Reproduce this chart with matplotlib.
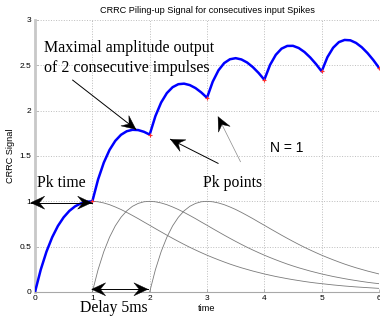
import numpy as np
import matplotlib
matplotlib.use('Agg')
import matplotlib.pyplot as plt
from matplotlib.patches import Polygon

# CRRC pulse shape at 0.1 time steps (0 .. 6)
time_step = 0.1
pulse = [0.000, 0.246, 0.445, 0.604, 0.729, 0.824, 0.895, 0.945, 0.977, 0.995,
         1.000, 0.995, 0.982, 0.963, 0.938, 0.910, 0.878, 0.844, 0.809, 0.772,
         0.736, 0.699, 0.663, 0.627, 0.592, 0.558, 0.525, 0.493, 0.463, 0.434,
         0.406, 0.380, 0.355, 0.331, 0.308, 0.287, 0.267, 0.249, 0.231, 0.215,
         0.199, 0.185, 0.171, 0.159, 0.147, 0.136, 0.126, 0.116, 0.107, 0.099,
         0.092, 0.085, 0.078, 0.072, 0.066, 0.061, 0.056, 0.052, 0.048, 0.044,
         0.040]
spike_times = [0, 1, 2, 3, 4, 5]      # input spikes feeding the pile-up
shown_pulses = [0, 1, 2]              # single pulses drawn in gray
pk_times = [1, 2, 3, 4, 5, 6]         # red points on the piled signal

x_ticks = [0, 1, 2, 3, 4, 5, 6]
y_ticks = [0, 0.5, 1, 1.5, 2, 2.5, 3]
y_ticklabels = ['0', '0.5', '1', '1.5', '2', '2.5', '3']

pulse = np.array(pulse)
n = len(pulse)
t = np.arange(n) * time_step

pile = np.zeros(n)
for s in spike_times:
    k = int(round(s / time_step))
    pile[k:] += pulse[:n - k]

sans = ['Liberation Sans', 'DejaVu Sans']
serif = ['Liberation Serif', 'DejaVu Serif']
plt.rcParams['font.family'] = sans

fig = plt.figure(figsize=(3.8, 3.22), dpi=100)
ax = fig.add_axes([35 / 380, 30 / 322, 344 / 380, 272 / 322])

for s in shown_pulses:
    k = int(round(s / time_step))
    ax.plot(t[k:], pulse[:n - k], color='#7a7a7a', lw=0.6, zorder=2)

ax.plot(t, pile, color='#0000ff', lw=1.8, zorder=3)
pk_idx = [int(round(p / time_step)) for p in pk_times]
ax.plot(t[pk_idx], pile[pk_idx], '+', color='#ff3030', ms=3, mew=0.8,
        zorder=4, clip_on=False)

ax.set_xlim(0, 6)
ax.set_ylim(0, 3)
ax.set_xticks(x_ticks)
ax.set_yticks(y_ticks)
ax.set_yticklabels(y_ticklabels)
ax.grid(True, linestyle=':', color='#bdbdbd', lw=0.7)
ax.set_axisbelow(True)
for side in ['top', 'right']:
    ax.spines[side].set_visible(False)
ax.spines['left'].set_color('#c8c8c8')
ax.spines['left'].set_linewidth(2.0)
ax.spines['bottom'].set_color('#a8a8a8')
ax.spines['bottom'].set_linewidth(0.8)
ax.tick_params(direction='in', length=2, width=0.5, colors='#a0a0a0',
               labelcolor='black', labelsize=6, pad=2.5)

ax.set_title('CRRC Piling-up Signal for consecutives input Spikes',
             fontsize=6.6, pad=5)
ax.set_xlabel('time', fontsize=6.6, labelpad=1)
ax.set_ylabel('CRRC Signal', fontsize=6.6, labelpad=3)


def head(tip, tail, L=14, W=6.5, notch=0.62):
    p_tip = ax.transData.transform(tip)
    p_tail = ax.transData.transform(tail)
    d = p_tip - p_tail
    d = d / np.hypot(*d)
    nrm = np.array([-d[1], d[0]])
    back = p_tip - d * L
    pts = [p_tip, back + nrm * W, p_tip - d * L * notch, back - nrm * W]
    pts = ax.transData.inverted().transform(pts)
    ax.add_patch(Polygon(pts, closed=True, fc='black', ec='black', lw=0.3,
                         clip_on=False, zorder=6))


def arrow(tail, tip, color='black', lw=0.7, both=False):
    ax.plot([tail[0], tip[0]], [tail[1], tip[1]], color=color, lw=lw,
            clip_on=False, zorder=5)
    head(tip, tail)
    if both:
        head(tail, tip)


arrow((0.657, 2.337), (1.760, 1.794))
arrow((3.193, 1.419), (2.364, 1.684))
arrow((3.584, 1.437), (3.193, 1.933), color='#8a8a8a', lw=0.5)
arrow((-0.075, 0.985), (0.988, 0.985), both=True)
arrow((0.988, 0.03), (1.969, 0.03), both=True)

ax.text(0.157, 2.646, 'Maximal amplitude output', family=serif, fontsize=11.5)
ax.text(0.157, 2.426, 'of 2 consecutive impulses', family=serif, fontsize=11.5)
ax.text(0.03, 1.154, 'Pk time', family=serif, fontsize=11.3)
ax.text(2.927, 1.154, 'Pk points', family=serif, fontsize=11.3)
ax.text(4.094, 1.54, 'N = 1', family=sans, fontsize=10)
ax.text(0.784, -0.225, 'Delay 5ms', family=serif, fontsize=11.3, clip_on=False)

fig.savefig('out.png', dpi=100)
